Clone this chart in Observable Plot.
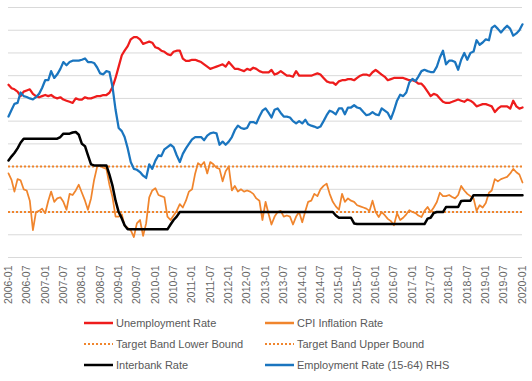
<!DOCTYPE html>
<html><head><meta charset="utf-8">
<script src="https://cdn.jsdelivr.net/npm/d3@7"></script>
<script src="https://cdn.jsdelivr.net/npm/@observablehq/plot@0.6"></script>
<style>
body{margin:0;background:#fff;font-family:"Liberation Sans",Arial,sans-serif;}
#chart{position:relative;width:532px;height:381px;overflow:hidden;}
.leg{position:absolute;font-size:11px;color:#595959;white-space:nowrap;line-height:14px;}
.leg svg{position:absolute;left:0;top:2px;}
.leg span{position:absolute;left:32px;top:0;}
</style></head><body><div id="chart"></div><script>
const firstMonth = "2006-01";
const tickLabels = ["2006-01","2006-07","2007-01","2007-07","2008-01","2008-07","2009-01","2009-07","2010-01","2010-07","2011-01","2011-07","2012-01","2012-07","2013-01","2013-07","2014-01","2014-07","2015-01","2015-07","2016-01","2016-07","2017-01","2017-07","2018-01","2018-07","2019-01","2019-07","2020-01"];
const gridValues = [-1,0,1,2,3,4,5,6,7,8,9,10];
const leftDomain = [-1, 10];
const rightDomain = [69.5, 75];
const targetLower = [1];
const targetUpper = [3];

const unemployment = [
6.6,6.45,6.4,6.3,6.1,6.3,6.35,6.4,6.2,6.1,
6.05,6.1,6.15,6.1,6.15,6.05,6.0,6.05,5.95,5.9,
5.85,5.8,6.0,5.95,5.95,6.05,6.0,6.0,6.05,6.1,
6.1,6.15,6.15,6.25,6.5,6.9,7.4,7.9,8.1,8.3,
8.6,8.7,8.7,8.6,8.4,8.45,8.5,8.45,8.25,8.2,
8.1,8.05,7.95,7.9,8.05,8.1,8.1,7.75,7.65,7.65,
7.7,7.7,7.65,7.6,7.5,7.4,7.3,7.35,7.4,7.45,
7.5,7.4,7.6,7.45,7.3,7.3,7.25,7.2,7.3,7.25,
7.35,7.3,7.2,7.15,7.15,7.15,7.25,7.05,7.1,7.2,
7.1,7.0,7.0,6.95,7.2,7.0,7.0,7.0,7.0,7.0,
7.05,7.1,7.05,6.9,6.75,6.7,6.7,6.6,6.75,6.8,
6.8,6.85,6.85,6.8,6.9,7.0,7.05,7.05,7.0,7.15,
7.25,7.15,7.05,6.95,6.8,6.85,6.9,6.9,6.9,6.9,
6.85,6.8,6.8,6.75,6.65,6.65,6.5,6.3,6.1,6.2,
6.15,6.0,5.85,5.8,5.8,5.85,5.9,5.95,5.9,5.85,
5.95,5.9,5.8,5.65,5.7,5.75,5.75,5.7,5.65,5.4,
5.55,5.65,5.65,5.65,5.55,5.9,5.65,5.55,5.6];

const cpi = [
2.7,2.4,1.9,2.45,2.4,2.0,1.95,1.5,0.2,1.0,
1.05,1.15,0.95,1.5,1.9,1.45,1.6,1.65,1.45,1.1,
1.8,1.75,1.95,2.2,1.85,1.5,1.1,1.6,2.4,3.0,
3.05,2.95,2.9,2.2,1.65,0.8,0.8,0.9,0.4,0.3,
0.2,-0.1,0.5,0.65,-0.05,0.5,1.65,1.95,2.05,1.75,
1.7,1.65,0.8,0.65,0.85,1.05,1.35,1.2,1.5,1.9,
2.0,2.7,3.15,3.05,3.2,2.7,3.2,3.1,2.95,2.9,
2.35,2.8,3.0,1.95,2.15,1.9,2.0,1.9,1.95,1.9,
1.8,1.6,1.5,0.65,1.45,0.9,0.45,0.8,1.0,1.05,
0.8,0.85,0.8,0.45,0.8,1.0,0.55,1.05,1.45,1.5,
1.8,1.7,2.0,2.15,2.25,1.8,1.45,1.25,1.1,1.8,
1.45,1.6,1.5,1.45,1.3,1.25,1.2,1.15,1.05,1.5,
1.0,0.78,1.0,0.86,0.7,0.6,0.42,0.95,0.65,0.75,
0.9,1.08,1.0,0.95,0.85,0.78,1.05,1.22,1.0,1.2,
1.44,1.85,1.7,1.7,1.75,1.66,1.6,1.75,2.15,1.95,
1.8,1.7,1.6,1.05,1.3,1.2,1.4,1.85,1.95,2.45,
2.35,2.45,2.5,2.55,2.7,2.9,2.75,2.65,2.3];

const interbank = [
3.27,3.45,3.6,3.8,4.05,4.23,4.23,4.23,4.23,4.23,
4.23,4.23,4.23,4.23,4.23,4.23,4.23,4.3,4.45,4.45,
4.45,4.5,4.52,4.4,4.0,3.9,3.5,3.1,3.05,3.05,
3.05,3.05,3.05,2.65,2.15,1.5,1.0,0.72,0.42,0.24,
0.24,0.24,0.24,0.24,0.24,0.24,0.24,0.24,0.24,0.24,
0.24,0.24,0.24,0.45,0.65,0.8,1.0,1.0,1.0,1.0,
1.0,1.0,1.0,1.0,1.0,1.0,1.0,1.0,1.0,1.0,
1.0,1.0,1.0,1.0,1.0,1.0,1.0,1.0,1.0,1.0,
1.0,1.0,1.0,1.0,1.0,1.0,1.0,1.0,1.0,1.0,
1.0,1.0,1.0,1.0,1.0,1.0,1.0,1.0,1.0,1.0,
1.0,1.0,1.0,1.0,1.0,1.0,1.0,0.85,0.75,0.75,
0.75,0.75,0.75,0.5,0.47,0.47,0.47,0.47,0.47,0.47,
0.47,0.47,0.47,0.47,0.47,0.47,0.47,0.47,0.47,0.47,
0.47,0.47,0.47,0.47,0.47,0.47,0.47,0.71,0.75,0.96,
1.0,1.0,1.0,1.22,1.22,1.22,1.22,1.22,1.49,1.5,
1.5,1.5,1.74,1.74,1.74,1.74,1.74,1.74,1.74,1.74,
1.74,1.74,1.74,1.74,1.74,1.74,1.74,1.74,1.74];

const employmentRHS = [
72.6,72.75,72.88,72.9,73.13,73.05,73.03,73.0,72.98,73.03,
73.1,73.23,73.4,73.4,73.6,73.45,73.53,73.65,73.8,73.73,
73.8,73.83,73.83,73.83,73.85,73.88,73.8,73.8,73.78,73.68,
73.55,73.53,73.6,73.58,73.25,72.75,72.35,72.28,72.15,71.9,
71.6,71.45,71.43,71.38,71.3,71.25,71.55,71.45,71.63,71.75,
71.73,71.88,71.93,71.98,71.93,71.75,71.6,71.78,71.9,72.0,
72.1,72.15,72.15,72.15,72.08,72.18,72.23,72.25,72.23,71.98,
72.05,71.98,72.05,72.15,72.3,72.4,72.35,72.33,72.35,72.48,
72.48,72.45,72.6,72.73,72.78,72.68,72.58,72.75,72.78,72.68,
72.6,72.6,72.58,72.5,72.45,72.5,72.45,72.53,72.43,72.4,
72.38,72.35,72.38,72.5,72.63,72.73,72.7,72.65,72.78,72.78,
72.65,72.8,72.8,72.85,72.8,72.78,72.7,72.63,72.65,72.7,
72.65,72.63,72.78,72.73,72.68,72.55,72.73,72.95,73.08,73.05,
73.13,73.35,73.43,73.38,73.48,73.6,73.63,73.6,73.58,73.58,
73.7,73.9,74.05,73.75,73.83,73.83,73.8,73.63,73.85,74.0,
73.85,74.0,74.03,74.28,74.18,74.23,74.3,74.28,74.55,74.6,
74.53,74.45,74.53,74.6,74.53,74.38,74.43,74.5,74.63];

const seriesNames = ["Unemployment Rate","CPI Inflation Rate","Target Band Lower Bound","Target Band Upper Bound","Interbank Rate","Employment Rate (15-64) RHS"];
const seriesColors = ["#ee1c1c","#f0852d","#f0852d","#f0852d","#000000","#1a75bf"];

const parseMonth = d3.utcParse("%Y-%m");
const start = parseMonth(firstMonth);
const rhsToLeft = d3.scaleLinear(rightDomain, leftDomain);
const rows = unemployment.map((u, i) => ({
  date: d3.utcMonth.offset(start, i),
  u, c: cpi[i], r: interbank[i], e: rhsToLeft(employmentRHS[i])
}));
const tickDates = tickLabels.map(parseMonth);

const plot = Plot.plot({
  width: 532, height: 310,
  marginLeft: 8, marginRight: 10, marginTop: 7, marginBottom: 53,
  style: {fontFamily: '"Liberation Sans", Arial, sans-serif', fontSize: "10.5px", color: "#666666", background: "#fff"},
  x: {type: "utc", domain: [tickDates[0], tickDates[tickDates.length - 1]]},
  y: {domain: leftDomain, axis: null},
  marks: [
    Plot.ruleY(gridValues, {stroke: "#d9d9d9", strokeWidth: 1}),
    Plot.axisX(tickDates, {tickSize: 0, tickPadding: 8, tickRotate: -90, tickFormat: d3.utcFormat("%Y-%m"), label: null}),
    Plot.lineY(rows, {x: "date", y: "u", stroke: seriesColors[0], strokeWidth: 2.25}),
    Plot.lineY(rows, {x: "date", y: "c", stroke: seriesColors[1], strokeWidth: 1.75}),
    Plot.ruleY(targetLower, {stroke: seriesColors[2], strokeWidth: 2, strokeDasharray: "2,2"}),
    Plot.ruleY(targetUpper, {stroke: seriesColors[3], strokeWidth: 2, strokeDasharray: "2,2"}),
    Plot.lineY(rows, {x: "date", y: "r", stroke: seriesColors[4], strokeWidth: 2.5}),
    Plot.lineY(rows, {x: "date", y: "e", stroke: seriesColors[5], strokeWidth: 2.25})
  ]
});
const chart = document.getElementById("chart");
chart.appendChild(plot);

const legPos = [[84,316],[265,316],[84,337],[265,337],[84,358],[265,358]];
seriesNames.forEach((name, i) => {
  const div = document.createElement("div");
  div.className = "leg";
  div.style.left = legPos[i][0] + "px";
  div.style.top = legPos[i][1] + "px";
  const dashed = i === 2 || i === 3;
  div.innerHTML = `<svg width="30" height="10"><line x1="0" x2="29" y1="5" y2="5" stroke="${seriesColors[i]}" stroke-width="${dashed ? 2 : 2.5}" ${dashed ? 'stroke-dasharray="2,2"' : ''}/></svg><span>${name}</span>`;
  chart.appendChild(div);
});
</script></body></html>
